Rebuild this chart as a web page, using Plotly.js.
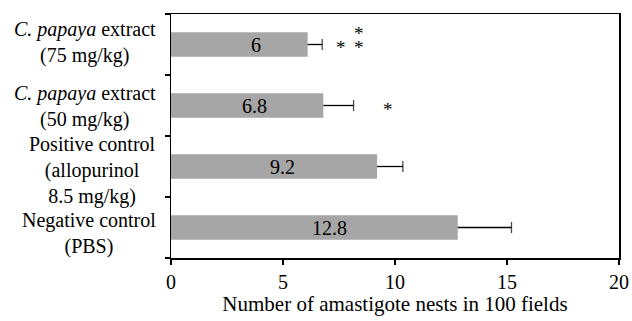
<!DOCTYPE html>
<html>
<head>
<meta charset="utf-8">
<script src="https://cdn.plot.ly/plotly-3.0.1.min.js"></script>
<style>html,body{margin:0;padding:0;background:#fff;}#chart{width:632px;height:321px;}</style>
</head>
<body>
<div id="chart"></div>
<script>
// ---- data ----
const catKeys = ['neg', 'pos', 'cp50', 'cp75'];
const catLabels = [
  'Negative control<br>(PBS)',
  'Positive control<br>(allopurinol<br>8.5 mg/kg)',
  '<i>C. papaya</i> extract<br>(50 mg/kg)',
  '<i>C. papaya</i> extract<br>(75 mg/kg)'
];
const means = [12.8, 9.2, 6.8, 6.1];
const errPlus = [2.4, 1.15, 1.35, 0.65];
const barLabels = ['12.8', '9.2', '6.8', '6'];
const sigCat = ['cp50', 'cp75', 'cp75', 'cp75'];
const sigX = [9.7, 7.6, 8.4, 8.4];
const sigText = ['*', '*', '*', '*'];
const xTicks = [0, 5, 10, 15, 20];
const xTitle = 'Number of amastigote nests in 100 fields';

// ---- styles ----
const FONT = 'Liberation Serif';
const sigShift = [-4, -3, -3, 11];
const catShift = [-6, -4, -1, 2];
const labelShift = [15, 8, 7, 17];

// error bar segments (one-sided, plus only)
const ex = [], ey = [], es = [];
for (let i = 0; i < means.length; i++) {
  ex.push(means[i], means[i] + errPlus[i], null);
  ey.push(catKeys[i], catKeys[i], null);
  es.push(0, 8, 0);
}

const traces = [
  {
    type: 'bar', orientation: 'h',
    x: means, y: catKeys,
    marker: {color: '#a6a6a6', line: {width: 0}},
    hoverinfo: 'x'
  },
  {
    type: 'scatter', mode: 'lines+markers',
    x: ex, y: ey,
    line: {color: '#000', width: 1.3},
    marker: {symbol: 'line-ns-open', size: es, color: '#000', line: {color: '#000', width: 1.3}},
    connectgaps: false,
    hoverinfo: 'skip'
  }
];

const annotations = [];
for (let i = 0; i < catKeys.length; i++) {
  annotations.push({
    xref: 'paper', yref: 'y', x: 0, y: catKeys[i],
    xanchor: 'right', yanchor: 'middle', xshift: -13, yshift: catShift[i],
    align: 'center', showarrow: false,
    text: catLabels[i],
    font: {family: FONT, size: 20, color: '#000'}
  });
  annotations.push({
    xref: 'x', yref: 'y', x: means[i] / 2, y: catKeys[i],
    xanchor: 'center', yanchor: 'middle', xshift: labelShift[i],
    showarrow: false, text: barLabels[i],
    font: {family: FONT, size: 20, color: '#000'}
  });
}
for (let i = 0; i < sigX.length; i++) {
  annotations.push({
    xref: 'x', yref: 'y', x: sigX[i], y: sigCat[i],
    xanchor: 'center', yanchor: 'middle', yshift: sigShift[i],
    showarrow: false, text: sigText[i],
    font: {family: FONT, size: 19, color: '#000'}
  });
}

const layout = {
  width: 632, height: 321,
  margin: {l: 171, r: 12.5, t: 14, b: 63.3},
  paper_bgcolor: '#fff', plot_bgcolor: '#fff',
  showlegend: false,
  bargap: 0.6,
  font: {family: FONT, size: 20, color: '#000'},
  xaxis: {
    range: [0, 20], tickvals: xTicks, ticktext: xTicks.map(String),
    ticks: 'outside', ticklen: 5, tickwidth: 1.3, tickcolor: '#000',
    showline: true, linecolor: '#000', linewidth: 1.5, mirror: true,
    showgrid: false, zeroline: false,
    tickfont: {family: FONT, size: 20, color: '#000'},
    title: {text: xTitle, font: {family: FONT, size: 21, color: '#000'}, standoff: 5}
  },
  yaxis: {
    type: 'category', categoryorder: 'array', categoryarray: catKeys,
    range: [-0.5, catKeys.length - 0.5],
    tickson: 'boundaries', ticks: 'outside', ticklen: 5, tickwidth: 1.3, tickcolor: '#000',
    showticklabels: false,
    showline: true, linecolor: '#000', linewidth: 1.5, mirror: true,
    showgrid: false, zeroline: false
  },
  annotations: annotations
};

Plotly.newPlot('chart', traces, layout, {displayModeBar: false, staticPlot: true});
</script>
</body>
</html>
